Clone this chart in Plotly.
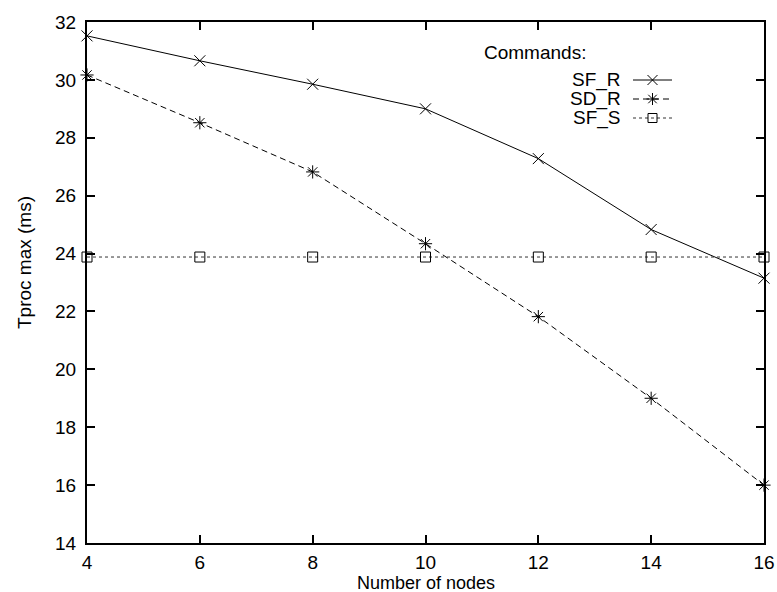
import plotly.graph_objects as go

nodes = [4, 6, 8, 10, 12, 14, 16]
sf_r = [31.52, 30.66, 29.85, 29.0, 27.28, 24.83, 23.15]
sd_r = [30.17, 28.52, 26.82, 24.34, 21.82, 19.0, 16.0]
sf_s = [23.88, 23.88, 23.88, 23.88, 23.88, 23.88, 23.88]
series_names = ["SF_R", "SD_R", "SF_S"]
x_ticks = [4, 6, 8, 10, 12, 14, 16]
y_ticks = [14, 16, 18, 20, 22, 24, 26, 28, 30, 32]

FONT = "Liberation Sans, Arial, sans-serif"
W, H = 777, 592
L, R, T, B = 87, 13, 22, 49
PW, PH = W - L - R, H - T - B


def px(xp):
    return (xp - L) / PW


def py(yp):
    return (H - B - yp) / PH


styles = [
    dict(dash="solid", symbol="x-thin-open", size=11, color="black"),
    dict(dash="6px,4px", symbol="asterisk-open", size=11, color="black"),
    dict(dash="3px,3px", symbol="square-open", size=10, color="#333333"),
]

fig = go.Figure()
for name, ys, st in zip(series_names, [sf_r, sd_r, sf_s], styles):
    fig.add_trace(go.Scatter(
        x=nodes, y=ys, mode="lines+markers", name=name, showlegend=False,
        line=dict(color=st["color"], width=1, dash=st["dash"]),
        marker=dict(symbol=st["symbol"], size=st["size"], color="black",
                    line=dict(color="black", width=1)),
        cliponaxis=False,
    ))

# Custom gnuplot-style key (text right-aligned, sample on the right)
key_text_x = 623
key_x0, key_x1 = 633, 672
key_rows = [80, 99, 118]
for name, st, ky in zip(series_names, styles, key_rows):
    fig.add_trace(go.Scatter(
        x=[key_x0, (key_x0 + key_x1) / 2, key_x1], y=[ky, ky, ky],
        xaxis="x2", yaxis="y2", mode="lines", showlegend=False,
        line=dict(color=st["color"], width=1, dash=st["dash"]), hoverinfo="skip"))
    fig.add_trace(go.Scatter(
        x=[(key_x0 + key_x1) / 2], y=[ky], xaxis="x2", yaxis="y2", mode="markers",
        showlegend=False, hoverinfo="skip",
        marker=dict(symbol=st["symbol"], size=st["size"] - 1, color="black",
                    line=dict(color="black", width=1))))
    fig.add_annotation(x=px(key_text_x), y=py(ky), xref="paper", yref="paper", text=name,
                       showarrow=False, xanchor="right", yanchor="middle",
                       font=dict(family=FONT, size=19, color="black"))
fig.add_annotation(x=px(482), y=py(52), xref="paper", yref="paper", text="Commands:",
                   showarrow=False, xanchor="left", yanchor="middle",
                   font=dict(family=FONT, size=19, color="black"))

fig.add_annotation(x=px(426), y=py(583), xref="paper", yref="paper", text="Number of nodes",
                   showarrow=False, xanchor="center", yanchor="middle",
                   font=dict(family=FONT, size=18, color="black"))
fig.add_annotation(x=px(24), y=py(263), xref="paper", yref="paper", text="Tproc max (ms)",
                   textangle=-90, showarrow=False, xanchor="center", yanchor="middle",
                   font=dict(family=FONT, size=19, color="black"))

axis_common = dict(showgrid=False, zeroline=False, showline=True, linecolor="black",
                   linewidth=2, mirror="ticks", ticks="inside", ticklen=8,
                   tickwidth=1.5, tickcolor="black", automargin=False,
                   tickfont=dict(family=FONT, size=19, color="black"))

fig.update_layout(
    width=W, height=H,
    margin=dict(l=L, r=R, t=T, b=B, pad=0, autoexpand=False),
    paper_bgcolor="white", plot_bgcolor="white",
    xaxis=dict(range=[4, 16], tickvals=x_ticks, ticklabelstandoff=1, **axis_common),
    yaxis=dict(range=[14, 32], tickvals=y_ticks, ticklabelstandoff=5, **axis_common),
    xaxis2=dict(range=[L, W - R], overlaying="x", visible=False, fixedrange=True),
    yaxis2=dict(range=[H - B, T], overlaying="y", visible=False, fixedrange=True),
)

fig.write_html("out.html")
